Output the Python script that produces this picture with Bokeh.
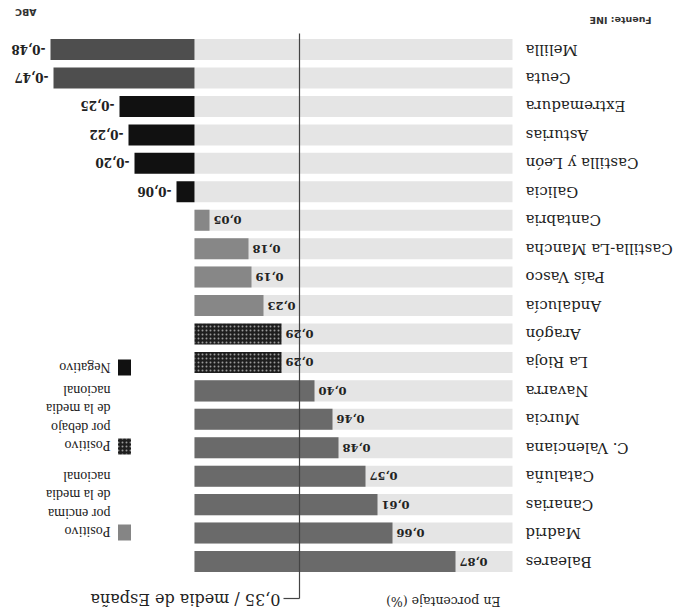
import math
from bokeh.plotting import figure
from bokeh.models import Range1d, ColumnDataSource
from bokeh.embed import file_html
from bokeh.resources import INLINE
from bokeh.core.properties import value

# ---------------- data ----------------
regions = ["Baleares", "Madrid", "Canarias", "Cataluña", "C. Valenciana", "Murcia",
           "Navarra", "La Rioja", "Aragón", "Andalucía", "País Vasco",
           "Castilla-La Mancha", "Cantabria", "Galicia", "Castilla y León",
           "Asturias", "Extremadura", "Ceuta", "Melilla"]
values = [0.87, 0.66, 0.61, 0.57, 0.48, 0.46, 0.40, 0.29, 0.29, 0.23, 0.19,
          0.18, 0.05, -0.06, -0.20, -0.22, -0.25, -0.47, -0.48]
national_mean = 0.35
mean_label = "0,35 / media de España"
title_text = "En porcentaje (%)"
source_text = "Fuente: INE"
brand_text = "ABC"
legend_groups = [["Positivo", "por encima", "de la media", "nacional"],
                 ["Positivo", "por debajo", "de la media", "nacional"],
                 ["Negativo"]]

# ---------------- geometry (the scan is printed upside down) ----------------
W, H = 684, 615
OFF = 0
X0, SX = 194.0, 300.0      # pixel of zero, pixels per unit
Y0, SY = 561.0, 28.44      # pixel (from top) of first row, pixels per row
ROT = math.pi

def fx(ix):  # image pixel -> data x
    return (ix - OFF - X0) / SX

def fy(iy):  # image pixel -> data y
    return (Y0 - (iy - OFF)) / SY

p = figure(width=W, height=H, output_backend="svg", toolbar_location=None,
           x_range=Range1d(-X0 / SX, (W - X0) / SX),
           y_range=Range1d((Y0 - H) / SY, Y0 / SY),
           x_axis_location=None, y_axis_location=None,
           min_border=0, min_border_left=0, min_border_right=0,
           min_border_top=0, min_border_bottom=0)
p.outline_line_color = None
p.xgrid.visible = False
p.ygrid.visible = False
p.background_fill_color = "white"
p.border_fill_color = "white"

idx = list(range(len(regions)))
BAR_H = 0.74

# light background bands
band_end = fx(512)
p.hbar(y=idx, left=0, right=band_end, height=BAR_H, fill_color="#e5e5e5",
       line_color=None)

# bar colours (as they look in the scan)
fills, hatches = [], []
for r, v in zip(regions, values):
    if v >= national_mean:
        c, h = "#6a6a6a", " "
    elif v >= 0:
        c, h = "#878787", " "
    else:
        c, h = "#111111", " "
    if r in ("La Rioja", "Aragón"):
        c, h = "#1e1e1e", "."
    if r in ("Ceuta", "Melilla"):
        c = "#4e4e4e"
    fills.append(c)
    hatches.append(h)

src = ColumnDataSource(dict(
    y=idx,
    left=[min(0, v) for v in values],
    right=[max(0, v) for v in values],
    fill=fills, hatch=hatches))
p.hbar(y="y", left="left", right="right", height=BAR_H, source=src,
       fill_color="fill", line_color=None, hatch_pattern="hatch",
       hatch_color="white", hatch_alpha=0.55, hatch_scale=4, hatch_weight=1)

# mean line
p.segment(x0=[national_mean], y0=[fy(33)], x1=[national_mean], y1=[fy(598)],
          line_color="#444444", line_width=1.2)
p.segment(x0=[fx(283)], y0=[fy(598)], x1=[national_mean], y1=[fy(598)],
          line_color="#444444", line_width=1.2)
p.text(x=[fx(280)], y=[fy(599)], text=[mean_label], angle=ROT,
       text_align="left", text_baseline="middle",
       text_font=value("DejaVu Serif"), text_font_size="16px",
       text_color="#222222")

# value labels
fmt = [("%.2f" % v).replace(".", ",") for v in values]
pos = [i for i, v in enumerate(values) if v >= 0]
neg = [i for i, v in enumerate(values) if v < 0]
p.text(x=[values[i] + 4 / SX for i in pos], y=pos, text=[fmt[i] for i in pos],
       angle=ROT, text_align="right", text_baseline="middle",
       text_font=value("DejaVu Serif"), text_font_size="11.5px",
       text_font_style="bold", text_color="#222222")
p.text(x=[values[i] - 5 / SX for i in neg], y=neg, text=[fmt[i] for i in neg],
       angle=ROT, text_align="left", text_baseline="middle",
       text_font=value("DejaVu Serif"), text_font_size="12px",
       text_font_style="bold", text_color="#222222")

# category labels
p.text(x=[fx(525)] * len(regions), y=idx, text=regions, angle=ROT,
       text_align="right", text_baseline="middle",
       text_font=value("DejaVu Serif"), text_font_size="15px",
       text_color="#222222")

# title, source, brand
p.text(x=[fx(500)], y=[fy(601)], text=[title_text], angle=ROT,
       text_align="left", text_baseline="middle",
       text_font=value("DejaVu Serif"), text_font_size="12.5px",
       text_color="#222222")
p.text(x=[fx(651)], y=[fy(20)], text=[source_text], angle=ROT,
       text_align="left", text_baseline="middle",
       text_font=value("DejaVu Sans"), text_font_size="9.5px",
       text_font_style="bold", text_color="#333333")
p.text(x=[fx(36)], y=[fy(12)], text=[brand_text], angle=ROT,
       text_align="left", text_baseline="middle",
       text_font=value("DejaVu Sans"), text_font_size="9.5px",
       text_font_style="bold", text_color="#333333")

# legend
sq_x = fx(124)
sq_y = [fy(532), fy(446), fy(367)]
p.rect(x=[sq_x], y=[sq_y[0]], width=13 / SX, height=16 / SY,
       fill_color="#858585", line_color=None)
p.rect(x=[sq_x], y=[sq_y[1]], width=13 / SX, height=16 / SY,
       fill_color="#1e1e1e", line_color=None, hatch_pattern=".",
       hatch_color="white", hatch_alpha=0.55, hatch_scale=4)
p.rect(x=[sq_x], y=[sq_y[2]], width=13 / SX, height=16 / SY,
       fill_color="#111111", line_color=None)
line_gap = 18.5
starts = [531, 445, 367]
lx, ly, lt = [], [], []
for g, st in zip(legend_groups, starts):
    for k, t in enumerate(g):
        lx.append(fx(110))
        ly.append(fy(st - k * line_gap))
        lt.append(t)
p.text(x=lx, y=ly, text=lt, angle=ROT, text_align="left",
       text_baseline="middle", text_font=value("Liberation Serif"),
       text_font_size="14px", text_color="#222222")

open("out.html", "w").write(file_html(p, INLINE))
